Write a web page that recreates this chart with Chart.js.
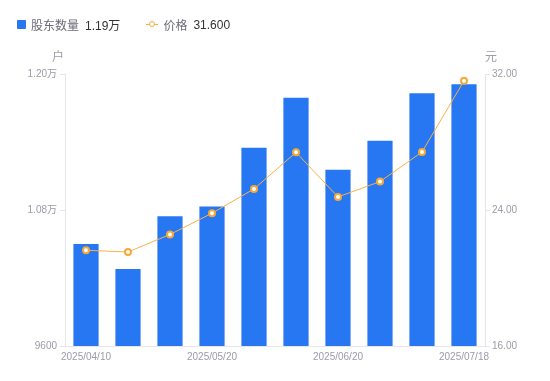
<!DOCTYPE html>
<html>
<head>
<meta charset="utf-8">
<script src="https://cdn.jsdelivr.net/npm/chart.js@4/dist/chart.umd.min.js"></script>
<style>
  html, body { margin:0; padding:0; background:#fff; }
  #wrap { position:relative; width:550px; height:381px; }
  #legend { position:absolute; left:17px; top:16px; display:flex; align-items:center;
            font:12px 'Liberation Sans','Noto Sans CJK SC',sans-serif; white-space:nowrap; }
  .item { display:flex; align-items:center; margin-right:26px; }
  .sq { width:9px; height:9px; background:#2777F2; border-radius:1px; margin-right:5px; }
  .ln { position:relative; width:12px; height:8px; margin-right:5px; }
  .ln:before { content:''; position:absolute; left:0; right:0; top:3.5px; height:1px; background:#F5AE3C; }
  .ln:after { content:''; position:absolute; left:2.5px; top:0.5px; width:4px; height:4px; border:1.5px solid #F5AE3C; border-radius:50%; background:#fff; }
  .name { color:#6b6b78; margin-right:6px; }
  .val { color:#333; }
</style>
</head>
<body>
<div id="wrap">
  <canvas id="c" width="550" height="381"></canvas>
  <div id="legend"></div>
</div>
<script>
const categories = ['2025/04/10','2025/04/20','2025/04/30','2025/05/20','2025/05/31','2025/06/10','2025/06/20','2025/06/30','2025/07/10','2025/07/18'];
const shareholders = [10500, 10280, 10745, 10830, 11350, 11790, 11155, 11410, 11830, 11910];
const prices = [21.63, 21.53, 22.56, 23.81, 25.24, 27.39, 24.77, 25.67, 27.41, 31.60];
const shownLabelIdx = [0, 3, 6, 9];
const leftTicks = [9600, 10800, 12000];
const rightTicks = [16, 24, 32];

const FONT = "'Liberation Sans','Noto Sans CJK SC',sans-serif";
const TICK_COLOR = '#9b9bab';
const LINE_COLOR = '#e6e6ea';

function fmtCount(v) { return v >= 10000 ? (v/10000).toFixed(2) + '万' : String(v); }

// legend
const lastCount = shareholders[shareholders.length-1];
const lastPrice = prices[prices.length-1];
document.getElementById('legend').innerHTML =
  '<div class="item"><span class="sq"></span><span class="name">股东数量</span><span class="val">' + fmtCount(lastCount) + '</span></div>' +
  '<div class="item"><span class="ln"></span><span class="name">价格</span><span class="val">' + lastPrice.toFixed(3) + '</span></div>';

const unitPlugin = {
  id: 'units',
  afterDraw(chart) {
    const ctx = chart.ctx, a = chart.chartArea;
    ctx.save();
    ctx.font = '12px ' + FONT;
    ctx.fillStyle = TICK_COLOR;
    ctx.textBaseline = 'middle';
    ctx.textAlign = 'right';
    ctx.fillText('户', chart.scales.y.right - 1, a.top - 16);
    ctx.textAlign = 'left';
    ctx.fillText('元', chart.scales.y1.left, a.top - 16);
    ctx.restore();
  }
};

new Chart(document.getElementById('c'), {
  data: {
    labels: categories,
    datasets: [
      { type:'line', label:'价格', data: prices, yAxisID:'y1', order:0,
        borderColor:'#F7B24A', borderWidth:1, tension:0,
        pointRadius:3, pointBorderWidth:2, pointBorderColor:'#F5AA38', pointBackgroundColor:'#fff' },
      { type:'bar', label:'股东数量', data: shareholders, yAxisID:'y', order:1,
        backgroundColor:'#2777F2', categoryPercentage:1, barPercentage:0.6 }
    ]
  },
  options: {
    responsive:false, animation:false,
    layout: { padding: { top:74, left:0, right:0, bottom:0 } },
    plugins: { legend:{ display:false }, tooltip:{ enabled:false } },
    scales: {
      x: {
        offset:true,
        grid:{ display:false, drawTicks:false },
        border:{ display:true, color:LINE_COLOR },
        ticks:{ autoSkip:false, maxRotation:0, padding:5, color:TICK_COLOR, font:{ size:10, family:FONT },
          callback(v, i) { return shownLabelIdx.includes(i) ? categories[i] : ''; } },
        afterFit(s) { s.height = 35; }
      },
      y: {
        position:'left', min:leftTicks[0], max:leftTicks[leftTicks.length-1],
        afterBuildTicks(s) { s.ticks = leftTicks.map(v => ({ value:v })); },
        grid:{ drawOnChartArea:false, drawTicks:true, tickLength:5, color:LINE_COLOR },
        border:{ display:true, color:LINE_COLOR },
        ticks:{ padding:3, color:TICK_COLOR, font:{ size:10, family:FONT }, callback:(v) => fmtCount(v) },
        afterFit(s) { s.width = 65; }
      },
      y1: {
        position:'right', min:rightTicks[0], max:rightTicks[rightTicks.length-1],
        afterBuildTicks(s) { s.ticks = rightTicks.map(v => ({ value:v })); },
        grid:{ drawOnChartArea:false, drawTicks:true, tickLength:5, color:LINE_COLOR },
        border:{ display:true, color:LINE_COLOR },
        ticks:{ padding:2, color:TICK_COLOR, font:{ size:10, family:FONT }, callback:(v) => v.toFixed(2) },
        afterFit(s) { s.width = 65; }
      }
    }
  },
  plugins:[unitPlugin]
});
</script>
</body>
</html>
